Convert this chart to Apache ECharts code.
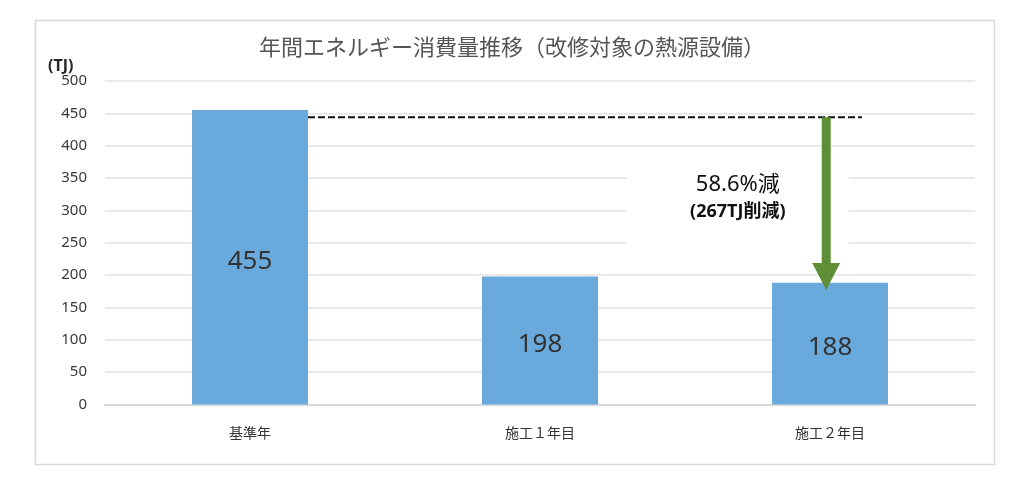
<!DOCTYPE html>
<html>
<head>
<meta charset="utf-8">
<script src="https://cdn.jsdelivr.net/npm/echarts@6/dist/echarts.min.js"></script>
<style>
html,body{margin:0;padding:0;background:#fff;}
#chart{width:1024px;height:491px;}
</style>
</head>
<body>
<div id="chart"></div>
<script>
// ---- data ----
const titleText = '年間エネルギー消費量推移（改修対象の熱源設備）';
const unitLabel = '(TJ)';
const categories = ['基準年', '施工１年目', '施工２年目'];
const values = [455, 198, 188];
const yMin = 0, yMax = 500, yInterval = 50;
const refLevel = 444;      // dashed reference line level
const arrowTipLevel = 177; // arrow tip level
const noteLine1 = '58.6%減';
const noteLine2 = '(267TJ削減)';

const FONT = "'Noto Sans', 'Noto Sans CJK JP', sans-serif";
const JPFONT = "'Noto Sans CJK JP', sans-serif";

const chart = echarts.init(document.getElementById('chart'));

function renderNote(params, api) {
  const band = api.size([1, 0])[0];
  const p0 = api.coord([0, refLevel]);
  const p2 = api.coord([2, refLevel]);
  const tip = api.coord([2, arrowTipLevel]);
  const ax = p2[0] - band * 0.013;
  const lineX1 = p0[0] + band * 0.2;
  const lineX2 = p2[0] + band * 0.11;
  const headH = 27, headW = 14, shaftW = 4.5;
  const boxTop = api.coord([2, 392])[1];
  const boxBot = api.coord([2, 215])[1];
  const boxL = p2[0] - band * 0.70;
  const boxR = p2[0] + band * 0.065;
  const tx = p2[0] - band * 0.318;
  const t1y = api.coord([2, 339])[1];
  const t2y = api.coord([2, 298])[1];
  return {
    type: 'group',
    children: [
      { type: 'rect', shape: { x: boxL, y: boxTop, width: boxR - boxL, height: boxBot - boxTop },
        style: { fill: '#ffffff' } },
      { type: 'line', shape: { x1: lineX1, y1: p0[1], x2: lineX2, y2: p2[1] },
        style: { stroke: '#111111', lineWidth: 2, lineDash: [7, 3] } },
      { type: 'polygon', shape: { points: [
          [ax - shaftW, p2[1]], [ax + shaftW, p2[1]], [ax + shaftW, tip[1] - headH],
          [ax + headW, tip[1] - headH], [ax, tip[1]], [ax - headW, tip[1] - headH],
          [ax - shaftW, tip[1] - headH] ] },
        style: { fill: '#5e8e35' } },
      { type: 'text', x: tx, y: t1y,
        style: { text: noteLine1, fill: '#111111', font: '22px ' + FONT, align: 'center', verticalAlign: 'middle' } },
      { type: 'text', x: tx, y: t2y,
        style: { text: noteLine2, fill: '#111111', font: 'bold 18px ' + FONT, align: 'center', verticalAlign: 'middle' } }
    ]
  };
}

chart.setOption({
  animation: false,
  backgroundColor: '#ffffff',
  title: {
    text: titleText, left: 'center', top: 31,
    textStyle: { fontSize: 22, fontWeight: 'normal', color: '#555555', fontFamily: JPFONT }
  },
  graphic: [
    { type: 'rect', left: 33, top: 18, shape: { width: 959, height: 444 },
      style: { fill: null, stroke: '#d9d9d9', lineWidth: 1.5 }, z: -1 },
    { type: 'text', left: 48, top: 58,
      style: { text: unitLabel, font: 'bold 16px ' + FONT, fill: '#262626' } }
  ],
  grid: { left: 105, right: 49, top: 81, bottom: 86.5, containLabel: false },
  xAxis: {
    type: 'category', data: categories,
    axisLine: { lineStyle: { color: '#d9d9d9', width: 2 } },
    axisTick: { show: false },
    axisLabel: { margin: 21, fontSize: 14, color: '#333333', fontFamily: JPFONT }
  },
  yAxis: {
    type: 'value', min: yMin, max: yMax, interval: yInterval,
    axisLine: { show: false }, axisTick: { show: false },
    axisLabel: { margin: 18, fontSize: 15, color: '#3a3a3a', fontFamily: FONT },
    splitLine: { lineStyle: { color: '#e3e3e3', width: 1.5 } }
  },
  series: [
    {
      type: 'bar', data: values, barWidth: '40%',
      itemStyle: { color: '#6aa9dc' },
      label: { show: true, position: 'inside', offset: [0, 4], fontSize: 26, color: '#333333', fontFamily: FONT }
    },
    {
      type: 'custom', renderItem: renderNote, data: [[2, refLevel]], z: 5, silent: true
    }
  ]
});
</script>
</body>
</html>
